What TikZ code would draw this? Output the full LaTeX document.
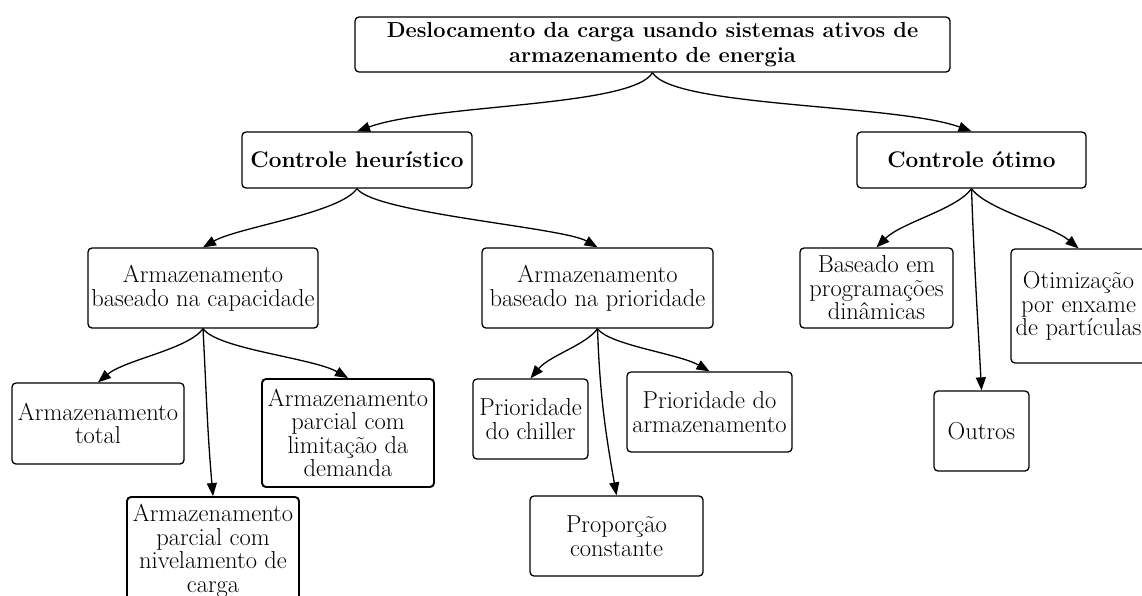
\documentclass[tikz,border=0pt]{standalone}
\usetikzlibrary{arrows.meta}
\begin{document}
\begin{tikzpicture}[x=1pt,y=-1pt,
  box/.style={draw, rounded corners=4pt, line width=1.3pt, align=center, inner sep=0pt,
    font=\fontsize{24.5}{23.5}\selectfont},
  thickbox/.style={box, line width=1.9pt},
  hbox/.style={box, font=\fontsize{22.6}{25}\selectfont\bfseries},
  rbox/.style={box, font=\fontsize{21.8}{25}\selectfont\bfseries},
  arr/.style={line width=1.3pt, -{Triangle[length=13pt,width=10pt]}}]
\useasboundingbox (0,0) rectangle (1142,595);

\node[rbox, minimum width=595pt, minimum height=55pt] (root) at (652.5,44.5)
  {Deslocamento da carga usando sistemas ativos de\\armazenamento de energia};
\node[hbox, minimum width=230pt, minimum height=56pt] (heur) at (357,160) {Controle heurístico};
\node[hbox, minimum width=229pt, minimum height=56pt] (otimo) at (971.5,160) {Controle ótimo};

\node[box, minimum width=230pt, minimum height=80pt] (cap) at (203,288) {Armazenamento\\baseado na capacidade};
\node[box, minimum width=231pt, minimum height=80pt] (pri) at (597.5,288) {Armazenamento\\baseado na prioridade};
\node[box, minimum width=153pt, minimum height=80pt] (base) at (876.5,288) {Baseado em\\programações\\dinâmicas};
\node[box, minimum width=135pt, minimum height=114pt] (otim) at (1078.5,306) {Otimização\\por enxame\\de partículas};

\node[box, minimum width=172pt, minimum height=81pt] (total) at (98,423.5) {Armazenamento\\total};
\node[thickbox, minimum width=172pt, minimum height=108pt] (lim) at (348,433) {Armazenamento\\parcial com\\limitação da\\demanda};
\node[thickbox, minimum width=172pt, minimum height=108pt] (niv) at (213,551) {Armazenamento\\parcial com\\nivelamento de\\carga};

\node[box, minimum width=115pt, minimum height=80pt] (chil) at (530.5,419) {Prioridade\\do chiller};
\node[box, minimum width=165pt, minimum height=80pt] (parm) at (709.5,412) {Prioridade do\\armazenamento};
\node[box, minimum width=173pt, minimum height=80pt] (prop) at (616.5,536) {Proporção\\constante};
\node[box, minimum width=95pt, minimum height=80pt] (outros) at (981.5,431) {Outros};

\draw[arr] (root.south) to[out=240,in=20,out distance=40pt,in distance=80pt] (heur.north);
\draw[arr] (root.south) to[out=-60,in=160,out distance=40pt,in distance=80pt] (otimo.north);

\draw[arr] (heur.south) to[out=235,in=30,out distance=30pt,in distance=40pt] (cap.north);
\draw[arr] (heur.south) to[out=-55,in=150,out distance=30pt,in distance=40pt] (pri.north);

\draw[arr] (cap.south) to[out=235,in=40,out distance=25pt,in distance=35pt] (total.north);
\draw[arr] (cap.south) to[out=-55,in=150,out distance=25pt,in distance=40pt] (lim.north);
\draw[arr] (cap.south) to[out=-87,in=95] (niv.north);

\draw[arr] (pri.south) to[out=235,in=50,out distance=20pt,in distance=30pt] (chil.north);
\draw[arr] (pri.south) to[out=-55,in=150,out distance=20pt,in distance=35pt] (parm.north);
\draw[arr] (pri.south) to[out=-88,in=100] (prop.north);

\draw[arr] (otimo.south) to[out=235,in=45,out distance=25pt,in distance=35pt] (base.north);
\draw[arr] (otimo.south) to[out=-55,in=140,out distance=25pt,in distance=35pt] (otim.north);
\draw[arr] (otimo.south) to[out=-88,in=93] (outros.north);
\end{tikzpicture}
\end{document}
